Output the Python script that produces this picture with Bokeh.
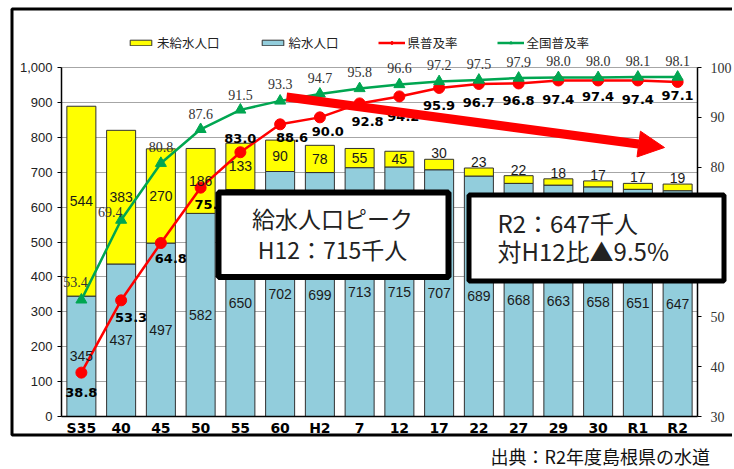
from bokeh.plotting import figure
from bokeh.models import (Range1d, LinearAxis, FixedTicker, NumeralTickFormatter,
                          ColumnDataSource, LabelSet, Label, BoxAnnotation, Arrow, NormalHead,
                          Legend, LegendItem)
from bokeh.embed import file_html
from bokeh.resources import INLINE
from bokeh.core.properties import value

# ---------------- data ----------------
years = ["S35", "40", "45", "50", "55", "60", "H2", "7", "12", "17", "22", "27", "29", "30", "R1", "R2"]
served = [345, 437, 497, 582, 650, 702, 699, 713, 715, 707, 689, 668, 663, 658, 651, 647]      # 給水人口 (千人)
unserved = [544, 383, 270, 186, 133, 90, 78, 55, 45, 30, 23, 22, 18, 17, 17, 19]               # 未給水人口 (千人)
pref_rate = [38.8, 53.3, 64.8, 75.9, 83.0, 88.6, 90.0, 92.8, 94.2, 95.9, 96.7, 96.8, 97.4, 97.4, 97.4, 97.1]  # 県普及率
nat_rate = [53.4, 69.4, 80.8, 87.6, 91.5, 93.3, 94.7, 95.8, 96.6, 97.2, 97.5, 97.9, 98.0, 98.0, 98.1, 98.1]   # 全国普及率
left_ticks = list(range(0, 1001, 100))
right_ticks = list(range(30, 101, 10))

# label placement offsets (pixels)
pref_dx = [0, 10, 10, 10, 0, 12, 8, 8, 4, 0, 0, 0, 0, 0, 0, 0]
pref_dy = [-20, -17, -16, -17, 14, -13, -14, -18, -20, -18, -19, -17, -19, -16, -19, -14]
nat_dx = [-6, -11, 0, 0, 0, 0, 0, 0, 0, 0, 0, 0, 0, 0, 0, 0]
nat_dy = [18, 8, 16, 15, 15, 17, 16, 16, 16, 16, 16, 16, 16, 16, 16, 16]

BLUE = "#92CDDC"
YELLOW = "#FFFF00"
RED = "#FF0000"
GREEN = "#00A651"

# ---------------- geometry (canvas pixels) ----------------
W, H = 732, 469
PL, PR, PT, PB = 61, 697, 67, 416          # plot area
N = len(years)
SX = (PR - PL) / N
SY = (PB - PT) / 1000.0
SR = (PB - PT) / 70.0


def X(px):
    return (px - PL) / SX


def Y(py):
    return (PB - py) / SY


def R(py):
    return 30 + (PB - py) / SR


p = figure(width=W, height=H, x_range=Range1d(X(0), X(W)), y_range=Range1d(Y(H), Y(0)),
           output_backend="svg", toolbar_location=None, min_border=0, title_location=None)
p.extra_y_ranges = {"rate": Range1d(R(H), R(0))}
p.background_fill_color = "white"
p.border_fill_color = "white"
p.outline_line_color = None

xs = [i + 0.5 for i in range(N)]

# axes (drawn at fixed positions inside the canvas)
ya = p.yaxis[0]
ya.fixed_location = 0
ya.bounds = (0, 1000)
ya.ticker = FixedTicker(ticks=left_ticks)
ya.formatter = NumeralTickFormatter(format="0,0")
ya.major_label_text_font = "Liberation Sans"
ya.major_label_text_font_size = "13px"
ya.major_label_text_color = "#222222"
ya.major_tick_in = 0
ya.major_tick_out = 4
ya.minor_tick_line_color = None
ya.axis_line_color = "black"
ya.axis_line_width = 1.5

ra = LinearAxis(y_range_name="rate", ticker=FixedTicker(ticks=right_ticks))
ra.fixed_location = N
ra.bounds = (30, 100)
ra.major_label_text_font = "Liberation Serif"
ra.major_label_text_font_size = "14px"
ra.major_label_text_color = "#333333"
ra.major_tick_in = 0
ra.major_tick_out = 4
ra.major_label_standoff = 9
ra.minor_tick_line_color = None
ra.axis_line_color = "black"
ra.axis_line_width = 1.5
p.add_layout(ra, "right")

xa = p.xaxis[0]
xa.fixed_location = 0
xa.bounds = (0, N)
xa.ticker = FixedTicker(ticks=xs)
xa.major_label_overrides = {x: lab for x, lab in zip(xs, years)}
xa.major_label_text_font = "DejaVu Sans"
xa.major_label_text_font_style = "bold"
xa.major_label_text_font_size = "14px"
xa.major_label_text_color = "black"
xa.major_tick_line_color = None
xa.major_tick_in = 0
xa.major_tick_out = 0
xa.minor_tick_line_color = None
xa.minor_tick_out = 0
xa.major_label_standoff = 3
xa.axis_line_color = "black"
xa.axis_line_width = 1.5

p.xgrid.visible = False
g = p.ygrid[0]
g.ticker = FixedTicker(ticks=left_ticks)
g.grid_line_color = "#A6A6A6"
g.grid_line_width = 1
if "cross_bounds" in g.properties():
    g.cross_bounds = (0, N)
else:
    g.visible = False
    p.segment(x0=[0] * len(left_ticks), x1=[N] * len(left_ticks), y0=left_ticks, y1=left_ticks,
              line_color="#A6A6A6", line_width=1, level="underlay")

# bars
tops = [s + u for s, u in zip(served, unserved)]
src = ColumnDataSource(dict(x=xs, served=served, top=tops))
blue = p.vbar(x="x", bottom=0, top="served", width=0.73, source=src,
              fill_color=BLUE, line_color="#303030", line_width=1)
yellow = p.vbar(x="x", bottom="served", top="top", width=0.73, source=src,
                fill_color=YELLOW, line_color="#303030", line_width=1)

# lines
pl = p.line(x=xs, y=pref_rate, y_range_name="rate", line_color=RED, line_width=2.5)
pm = p.scatter(x=xs, y=pref_rate, y_range_name="rate", marker="circle", size=11,
               fill_color=RED, line_color=RED)
nl = p.line(x=xs, y=nat_rate, y_range_name="rate", line_color=GREEN, line_width=2.5)
nm = p.scatter(x=xs, y=nat_rate, y_range_name="rate", marker="triangle", size=11,
               fill_color=GREEN, line_color=GREEN)

# bar labels
blue_src = ColumnDataSource(dict(x=xs, y=[s / 2 for s in served], t=[str(s) for s in served]))
big = [i for i in range(N) if unserved[i] >= 40]
small = [i for i in range(N) if unserved[i] < 40]
ybig_src = ColumnDataSource(dict(x=[xs[i] for i in big],
                                 y=[served[i] + unserved[i] / 2 for i in big],
                                 t=[str(unserved[i]) for i in big]))
ysmall_src = ColumnDataSource(dict(x=[xs[i] for i in small],
                                   y=[tops[i] for i in small],
                                   t=[str(unserved[i]) for i in small]))
for s, base in ((blue_src, "middle"), (ybig_src, "middle"), (ysmall_src, "bottom")):
    p.add_layout(LabelSet(x="x", y="y", text="t", source=s, text_align="center", text_baseline=base,
                          text_font=value("Liberation Sans"), text_font_size="14px",
                          text_color="#1A1A1A", y_offset=1 if base == "bottom" else 0))

# rate labels
pref_src = ColumnDataSource(dict(x=xs, y=pref_rate, t=["%.1f" % v for v in pref_rate],
                                 dx=pref_dx, dy=pref_dy))
p.add_layout(LabelSet(x="x", y="y", text="t", source=pref_src, y_range_name="rate",
                      x_offset="dx", y_offset="dy", text_align="center", text_baseline="middle",
                      text_font=value("DejaVu Sans"), text_font_style="bold", text_font_size="13px",
                      text_color="black"))
nat_src = ColumnDataSource(dict(x=xs, y=nat_rate, t=["%.1f" % v for v in nat_rate],
                                dx=nat_dx, dy=nat_dy))
p.add_layout(LabelSet(x="x", y="y", text="t", source=nat_src, y_range_name="rate",
                      x_offset="dx", y_offset="dy", text_align="center", text_baseline="middle",
                      text_font=value("Liberation Serif"), text_font_size="14px",
                      text_color="#333333"))

# legend
legend = Legend(items=[LegendItem(label="未給水人口", renderers=[yellow]),
                       LegendItem(label="給水人口", renderers=[blue]),
                       LegendItem(label="県普及率", renderers=[pl, pm]),
                       LegendItem(label="全国普及率", renderers=[nl, nm])],
                orientation="horizontal", location=(127, H - 52), spacing=39,
                glyph_width=27, glyph_height=7, label_standoff=3, padding=0, margin=0,
                border_line_color=None, background_fill_alpha=0,
                label_text_font="Noto Sans CJK JP", label_text_font_size="12.5px",
                label_text_color="#222222")
p.add_layout(legend)

# red trend arrow
p.add_layout(Arrow(end=NormalHead(size=26, fill_color=RED, line_color=RED, line_width=1),
                   x_start=X(286), y_start=Y(96.5), x_end=X(664), y_end=Y(147),
                   line_color=RED, line_width=9))

# callout boxes
p.add_layout(BoxAnnotation(left=X(218), right=X(448), top=Y(192), bottom=Y(276.5),
                           fill_color="white", fill_alpha=1, line_color="black",
                           line_width=6, line_alpha=1))
p.add_layout(BoxAnnotation(left=X(468.5), right=X(723.5), top=Y(194.5), bottom=Y(280.5),
                           fill_color="white", fill_alpha=1, line_color="black",
                           line_width=5, line_alpha=1))
for txt, py in (("給水人口ピーク", 217), ("H12：715千人", 248)):
    p.add_layout(Label(x=X(332), y=Y(py), text=txt, text_align="center", text_baseline="middle",
                       text_font="Noto Sans CJK JP", text_font_size="23px", text_color="#222222"))
for txt, py in (("R2：647千人", 222), ("対H12比▲9.5%", 250)):
    p.add_layout(Label(x=X(497), y=Y(py), text=txt, text_align="left", text_baseline="middle",
                       text_font="Noto Sans CJK JP", text_font_size="24px", text_color="#222222"))

# outer frame (right side runs off the picture)
p.add_layout(BoxAnnotation(left=X(11.5), right=X(W + 30), top=Y(8.5), bottom=Y(434.5),
                           fill_color=None, fill_alpha=0, line_color="black", line_width=3,
                           line_alpha=1))

# source
p.add_layout(Label(x=X(490), y=Y(455), text="出典：R2年度島根県の水道", text_align="left",
                   text_baseline="middle", text_font="Noto Sans CJK JP", text_font_size="18px",
                   text_color="#111111"))

open("out.html", "w").write(file_html(p, INLINE))
